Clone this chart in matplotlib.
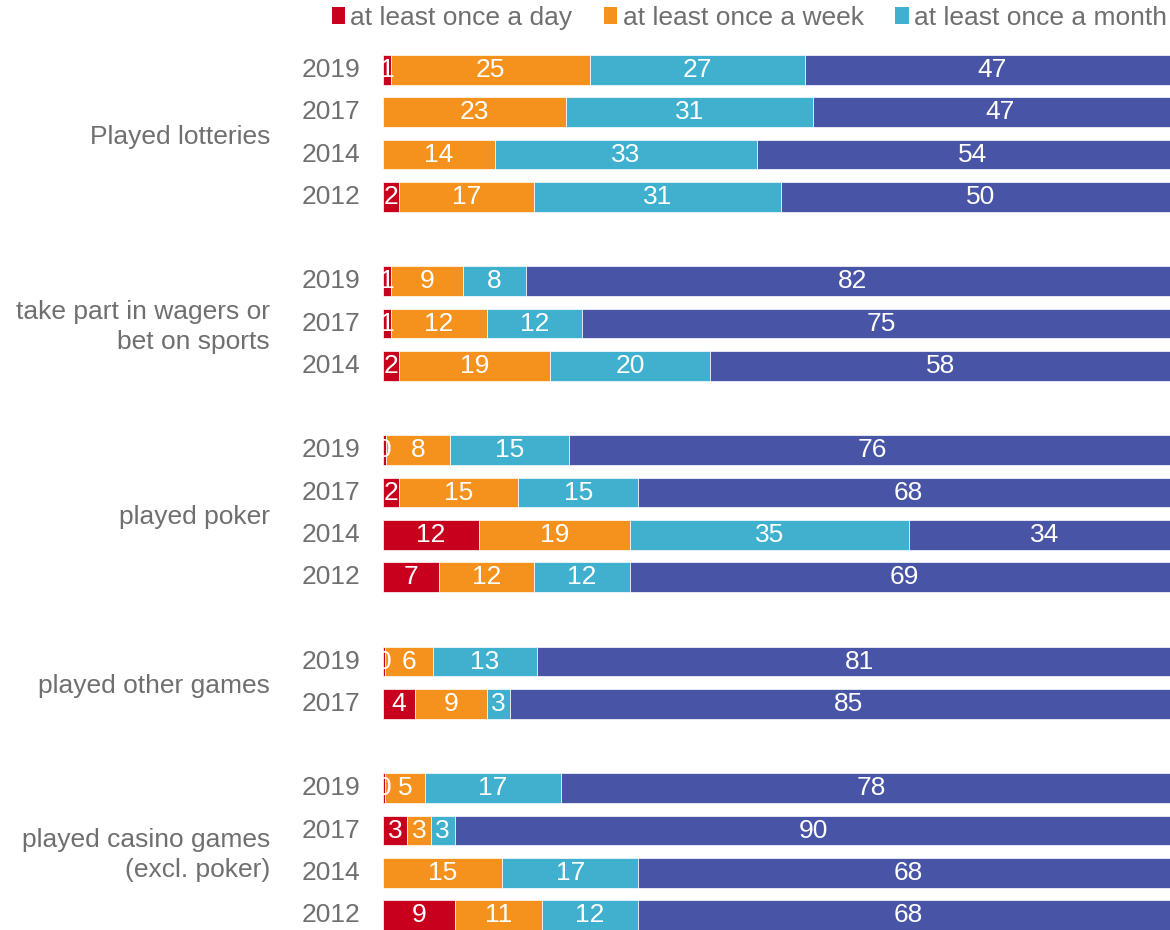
import numpy as np
import matplotlib
matplotlib.use("Agg")
from matplotlib import pyplot as plt
from matplotlib.patches import Patch
import matplotlib.transforms as mtransforms

plt.rcParams['font.family'] = ['Liberation Sans', 'DejaVu Sans']

# groups and their survey years (top to bottom)
groups = ['Played lotteries', 'take part in wagers or\nbet on sports', 'played poker',
          'played other games', 'played casino games\n(excl. poker)']
years = [['2019', '2017', '2014', '2012'],
         ['2019', '2017', '2014'],
         ['2019', '2017', '2014', '2012'],
         ['2019', '2017'],
         ['2019', '2017', '2014', '2012']]

# shares in %, nan = no segment shown; 0.4 = shown as "0"
day = [1, np.nan, np.nan, 2,
       1, 1, 2,
       0.4, 2, 12, 7,
       0.3, 4,
       0.3, 3, np.nan, 9]
week = [25, 23, 14, 17,
        9, 12, 19,
        8, 15, 19, 12,
        6, 9,
        5, 3, 15, 11]
month = [27, 31, 33, 31,
         8, 12, 20,
         15, 15, 35, 12,
         13, 3,
         17, 3, 17, 12]
rest = [47, 47, 54, 50,
        82, 75, 58,
        76, 68, 34, 69,
        81, 85,
        78, 90, 68, 68]

legend_labels = ['at least once a day', 'at least once a week', 'at least once a month']
colors = ['#C8001E', '#F5921E', '#3FB1CE', '#4854A5']
grey = '#6F6F6F'
fs = 19

# row positions: one blank slot between groups
ypos = []
group_centers = []
slot = 0
for yrs in years:
    start = slot
    for _ in yrs:
        ypos.append(slot)
        slot += 1
    group_centers.append((start + slot - 1) / 2)
    slot += 1
ypos = np.array(ypos, dtype=float)

fig = plt.figure(figsize=(11.7, 9.3), dpi=100)
ax = fig.add_axes([383 / 1170, 0, 1 - 383 / 1170, 885 / 930])

series = [day, week, month, rest]
left = np.zeros(len(ypos))
for vals, c in zip(series, colors):
    v = np.array(vals, dtype=float)
    w = np.nan_to_num(v)
    ax.barh(ypos, w, left=left, height=0.71, color=c, edgecolor='white', linewidth=0.5)
    for y, l, val in zip(ypos, left, v):
        if np.isnan(val):
            continue
        ax.text(l + val / 2, y, f'{val:.0f}', ha='center', va='center',
                color='white', fontsize=fs, clip_on=True)
    left += w

ax.set_xlim(0, 98.8)
ax.set_ylim((930 - 70) / 42.25, -25 / 42.25)
ax.axis('off')

trans = mtransforms.blended_transform_factory(fig.transFigure, ax.transData)
all_years = [y for yrs in years for y in yrs]
for y, lab in zip(ypos, all_years):
    fig.text(360 / 1170, y, lab, transform=trans, ha='right', va='center',
             color=grey, fontsize=fs)
for gc, g in zip(group_centers, groups):
    fig.text(270 / 1170, gc + 0.08, g, transform=trans, ha='right', va='center',
             color=grey, fontsize=fs, linespacing=1.3)

handles = [Patch(facecolor=c, edgecolor='none') for c in colors[:3]]
fig.legend(handles, legend_labels, loc='center left', bbox_to_anchor=(332 / 1170, 1 - 18 / 930),
           ncol=3, frameon=False, fontsize=fs, labelcolor=grey, borderpad=0, borderaxespad=0,
           handlelength=0.5, handleheight=0.6, handletextpad=0.2, columnspacing=1.2)

fig.savefig('out.png', dpi=100)
